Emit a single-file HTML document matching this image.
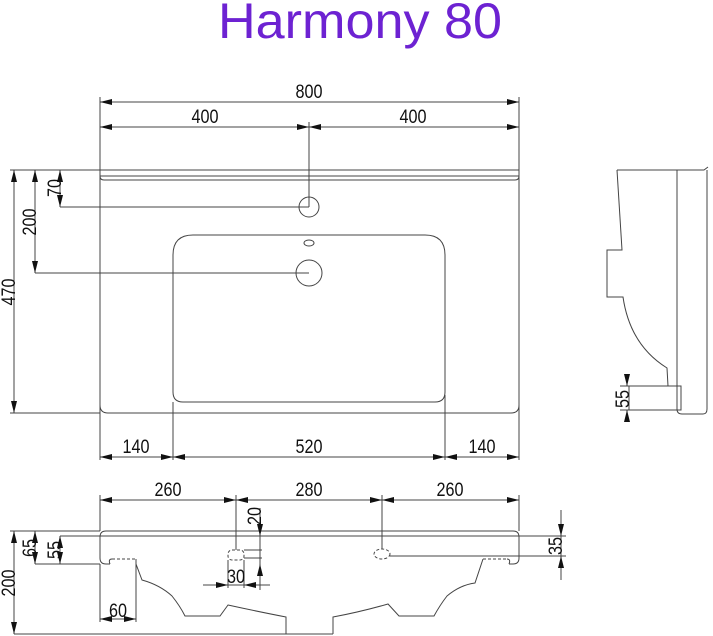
<!DOCTYPE html>
<html><head><meta charset="utf-8"><style>
html,body{margin:0;padding:0;background:#fff;}
svg{display:block;}
text{font-family:"Liberation Sans",sans-serif;font-size:19px;fill:#111;}
</style></head><body>
<svg width="713" height="636" viewBox="0 0 713 636" xmlns="http://www.w3.org/2000/svg">
<defs>
<marker id="a" viewBox="0 0 12 6" refX="12" refY="3" markerWidth="12" markerHeight="6" markerUnits="userSpaceOnUse" orient="auto-start-reverse">
<path d="M12,3 L0,0 L0,6 Z" fill="#111"/></marker>
</defs>
<text x="360" y="38" text-anchor="middle" textLength="284" lengthAdjust="spacingAndGlyphs" style="font-size:50px;fill:#6d22d2">Harmony 80</text>

<g stroke="#444" stroke-width="1" fill="none">
<path d="M100,170 H519 V405 Q519,413 511,413 H108 Q100,413 100,405 Z"/>
<path d="M100,176 H519"/>
<path d="M100,176 Q100,180 104,180 H515 Q519,180 519,176"/>
<path d="M193,235 H425 Q445,235 445,255 V392 Q445,402 435,402 H183 Q173,402 173,392 V255 Q173,235 193,235 Z"/>
<circle cx="309" cy="207" r="10"/>
<ellipse cx="309" cy="243" rx="5" ry="3"/>
<circle cx="309" cy="273" r="13"/>
<path d="M100,97 V460 M519,97 V460 M173,402 V460 M445,395 V460 M309,122 V207"/>
<path d="M10,170 H100 M10,413 H100 M60,207 H309 M35,273 H309"/>
<path d="M100,102 H519" marker-start="url(#a)" marker-end="url(#a)"/>
<path d="M100,127 H309" marker-start="url(#a)" marker-end="url(#a)"/>
<path d="M309,127 H519" marker-start="url(#a)" marker-end="url(#a)"/>
<path d="M100,457 H173" marker-start="url(#a)" marker-end="url(#a)"/>
<path d="M173,457 H445" marker-start="url(#a)" marker-end="url(#a)"/>
<path d="M445,457 H519" marker-start="url(#a)" marker-end="url(#a)"/>
<path d="M14,170 V413" marker-start="url(#a)" marker-end="url(#a)"/>
<path d="M35,170 V273" marker-start="url(#a)" marker-end="url(#a)"/>
<path d="M60,170 V207" marker-start="url(#a)" marker-end="url(#a)"/>

<path d="M617,170 H704 L708,167 M617,170 L622,250 H607 V297 H623 Q630,345 667,368 L668,386"/>
<path d="M677,170 V409 Q677,414 682,414 H703 Q707,414 707,409 V170"/>
<path d="M629,386 H681 V410 H629 Z"/>
<path d="M681,388 V408" stroke-dasharray="2,2"/>
<path d="M620,386 H629 M620,410 H629"/>
<path d="M627,376 V386" marker-end="url(#a)"/>
<path d="M627,420 V410" marker-end="url(#a)"/>

<path d="M106,531 H513 Q519,531 519,537 V558 Q519,564 513,564 H509 M100,537 Q100,531 106,531 M100,537 V558 Q100,564 106,564 H110"/>
<path d="M100,536 H519"/>
<path d="M110,564 Q108,559 112,559 M507,559 Q511,559 509,564"/>
<path d="M112,559 H136 M483,559 H507" stroke-dasharray="3,2"/>
<path d="M136,559 V564 L142,580 Q160,585 172,596 Q180,606 185,616 H220 L228,605 Q260,612 286,617 V634 M333,634 V617 Q360,612 388,604 L399,616 H434 Q440,605 447,596 Q460,585 475,583 L483,559"/>
<path d="M14,634 H333"/>
<rect x="228" y="550" width="16" height="10" rx="4" stroke-dasharray="3,2"/>
<ellipse cx="382" cy="554" rx="8" ry="5" stroke-dasharray="3,2"/>
<path d="M100,495 V531 M236,495 V550 M382,495 V549 M519,495 V531"/>
<path d="M10,531 H100 M35,564 H100 M60,536 H100"/>
<path d="M100,564 V622 M136,564 V622"/>
<path d="M228,560 V588 M244,560 V588 M244,550 H262 M244,558 H262"/>
<path d="M390,556 H566 M519,536 H566"/>
<path d="M100,500 H236" marker-start="url(#a)" marker-end="url(#a)"/>
<path d="M236,500 H382" marker-start="url(#a)" marker-end="url(#a)"/>
<path d="M382,500 H519" marker-start="url(#a)" marker-end="url(#a)"/>
<path d="M14,531 V634" marker-start="url(#a)" marker-end="url(#a)"/>
<path d="M35,531 V564" marker-start="url(#a)" marker-end="url(#a)"/>
<path d="M60,536 V564" marker-start="url(#a)" marker-end="url(#a)"/>
<path d="M260,508 V536" marker-end="url(#a)"/>
<path d="M260,590 V564" marker-end="url(#a)"/>
<path d="M260,536 V564"/>
<path d="M203,585 H228" marker-end="url(#a)"/>
<path d="M270,585 H244" marker-end="url(#a)"/>
<path d="M228,585 H244"/>
<path d="M561,510 V536" marker-end="url(#a)"/>
<path d="M561,580 V556" marker-end="url(#a)"/>
<path d="M561,536 V556"/>
<path d="M100,619 H136" marker-start="url(#a)" marker-end="url(#a)"/>
</g>

<g lengthAdjust="spacingAndGlyphs">
<text x="309" y="98" text-anchor="middle" textLength="27" lengthAdjust="spacingAndGlyphs">800</text>
<text x="205" y="123" text-anchor="middle" textLength="27" lengthAdjust="spacingAndGlyphs">400</text>
<text x="413" y="123" text-anchor="middle" textLength="27" lengthAdjust="spacingAndGlyphs">400</text>
<text x="136" y="453" text-anchor="middle" textLength="27" lengthAdjust="spacingAndGlyphs">140</text>
<text x="309" y="453" text-anchor="middle" textLength="27" lengthAdjust="spacingAndGlyphs">520</text>
<text x="482" y="453" text-anchor="middle" textLength="27" lengthAdjust="spacingAndGlyphs">140</text>
<text transform="translate(15,292) rotate(-90)" text-anchor="middle" textLength="27" lengthAdjust="spacingAndGlyphs">470</text>
<text transform="translate(36,222) rotate(-90)" text-anchor="middle" textLength="27" lengthAdjust="spacingAndGlyphs">200</text>
<text transform="translate(61,188) rotate(-90)" text-anchor="middle" textLength="18" lengthAdjust="spacingAndGlyphs">70</text>
<text transform="translate(629,399) rotate(-90)" text-anchor="middle" textLength="18" lengthAdjust="spacingAndGlyphs">55</text>
<text x="168" y="496" text-anchor="middle" textLength="27" lengthAdjust="spacingAndGlyphs">260</text>
<text x="309" y="496" text-anchor="middle" textLength="27" lengthAdjust="spacingAndGlyphs">280</text>
<text x="450" y="496" text-anchor="middle" textLength="27" lengthAdjust="spacingAndGlyphs">260</text>
<text transform="translate(15,583) rotate(-90)" text-anchor="middle" textLength="27" lengthAdjust="spacingAndGlyphs">200</text>
<text transform="translate(36,548) rotate(-90)" text-anchor="middle" textLength="18" lengthAdjust="spacingAndGlyphs">65</text>
<text transform="translate(61,550) rotate(-90)" text-anchor="middle" textLength="18" lengthAdjust="spacingAndGlyphs">55</text>
<text transform="translate(261,516) rotate(-90)" text-anchor="middle" textLength="18" lengthAdjust="spacingAndGlyphs">20</text>
<text x="236" y="583" text-anchor="middle" textLength="18" lengthAdjust="spacingAndGlyphs">30</text>
<text transform="translate(562,546) rotate(-90)" text-anchor="middle" textLength="18" lengthAdjust="spacingAndGlyphs">35</text>
<text x="118" y="617" text-anchor="middle" textLength="18" lengthAdjust="spacingAndGlyphs">60</text>
</g>
</svg>
</body></html>
